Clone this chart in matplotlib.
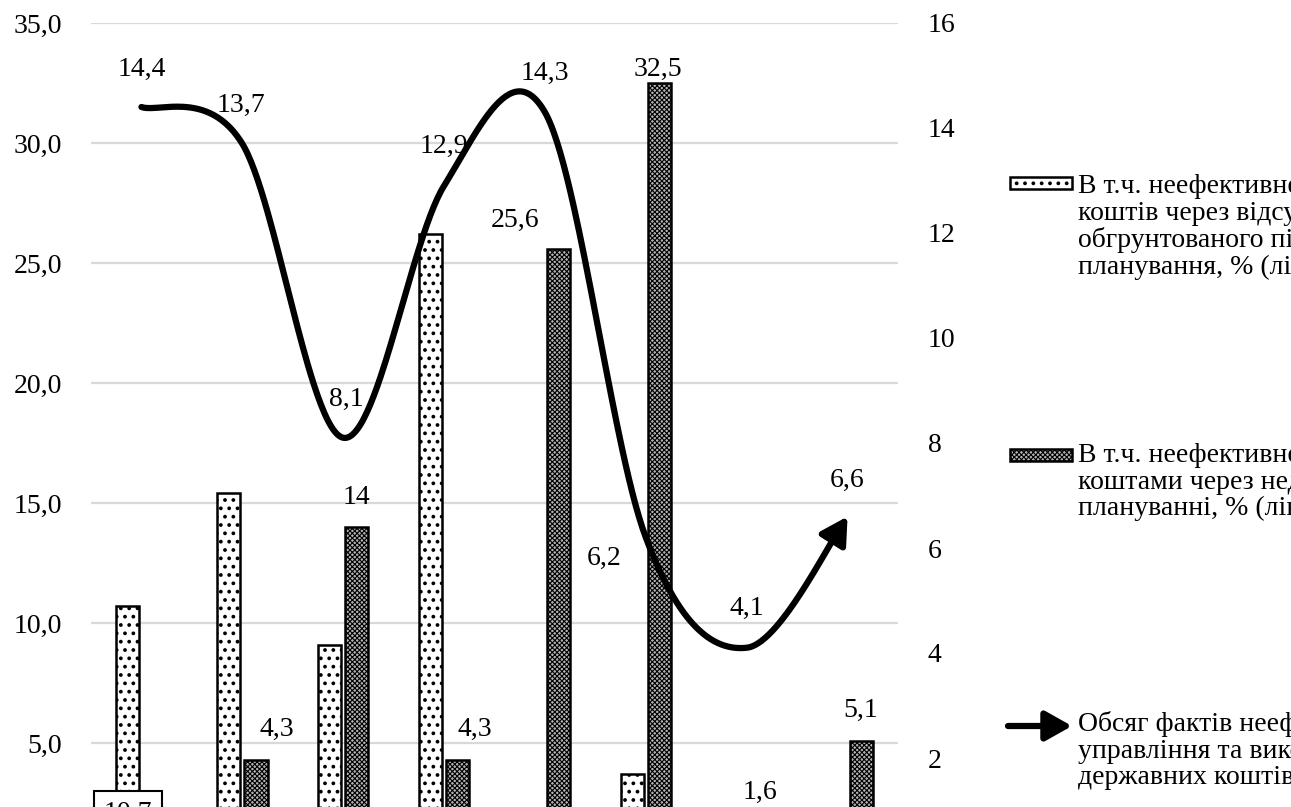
import numpy as np
import matplotlib
matplotlib.use("Agg")
import matplotlib.pyplot as plt
from matplotlib.patches import Rectangle, FancyArrowPatch

plt.rcParams['font.family'] = ['Liberation Serif', 'DejaVu Serif']
plt.rcParams['hatch.linewidth'] = 1.5

# ---------------- data ----------------
periods = [1, 2, 3, 4, 5, 6, 7, 8]
planning_absent = [10.7, 15.4, 9.1, 26.2, np.nan, 3.7, np.nan, np.nan]      # dotted, left axis
planning_flaws = [np.nan, 4.3, 14.0, 4.3, 25.6, 32.5, 1.6, 5.1]            # checker, left axis
facts_volume = [14.4, 13.7, 8.1, 12.9, 14.3, 6.2, 4.1, 6.6]                 # line, right axis

left_ticks = [5, 10, 15, 20, 25, 30, 35]
left_ticklabels = ['5,0', '10,0', '15,0', '20,0', '25,0', '30,0', '35,0']
right_ticks = [2, 4, 6, 8, 10, 12, 14, 16]
right_ticklabels = ['2', '4', '6', '8', '10', '12', '14', '16']

legend_labels = [
    "В т.ч. неефективне використання\nкоштів через відсутність\nобгрунтованого підходу до\nпланування, % (ліва шкала)",
    "В т.ч. неефективне управління\nкоштами через недоліки в\nплануванні, % (ліва шкала)",
    "Обсяг фактів неефективного\nуправління та використання\nдержавних коштів, млрд грн (права шкала)",
]

# ---------------- figure ----------------
W, H = 1291, 807
fig = plt.figure(figsize=(W / 100, H / 100), dpi=100)

def fx(px):
    return px / W

def fy(py):
    return 1 - py / H

ax_left, ax_right_px = 91, 898
ax_top, ax_bot = 23, 863
ax = fig.add_axes([fx(ax_left), fy(ax_bot), fx(ax_right_px - ax_left), (ax_bot - ax_top) / H])
ax2 = ax.twinx()

x = np.arange(len(periods))
bw = 0.23
off = 0.135
checker_face = '#b4b4b4'

ax.bar(x - off, planning_absent, bw, facecolor='white', edgecolor='black',
       linewidth=1.8, hatch='..', zorder=3)
with plt.rc_context({'hatch.linewidth': 0.8}):
    ax.bar(x + off, planning_flaws, bw, facecolor=checker_face, edgecolor='black',
           linewidth=1.8, hatch='xxxxxxx', zorder=3)

ax.set_xlim(-0.5, len(periods) - 0.5)
ax.set_ylim(0, 35)
ax2.set_ylim(0, 16)
ax.set_yticks(left_ticks)
ax.set_yticklabels(left_ticklabels)
ax2.set_yticks(right_ticks)
ax2.set_yticklabels(right_ticklabels)
ax.set_xticks([])
for a in (ax, ax2):
    for s in a.spines.values():
        s.set_visible(False)
    a.tick_params(length=0, labelsize=20)
ax.tick_params(axis='y', pad=21)
ax2.tick_params(axis='y', pad=21.5)
ax.yaxis.grid(True, color='#d9d9d9', linewidth=1.6, zorder=0)
ax.set_axisbelow(True)

# smoothed line (Excel-like Bezier smoothing)
def smooth(xs, ys, n=60):
    P = np.column_stack([xs, ys]).astype(float)
    P = np.vstack([P[0], P, P[-1]])
    out = []
    t = np.linspace(0, 1, n)[:, None]
    for i in range(1, len(P) - 2):
        p0, p1, p2, p3 = P[i - 1], P[i], P[i + 1], P[i + 2]
        c1 = p1 + (p2 - p0) / 6
        c2 = p2 - (p3 - p1) / 6
        seg = (1 - t) ** 3 * p1 + 3 * (1 - t) ** 2 * t * c1 + 3 * (1 - t) * t ** 2 * c2 + t ** 3 * p2
        out.append(seg if i == 1 else seg[1:])
    return np.vstack(out)

curve = smooth(x, facts_volume)
k = 14
ax2.plot(curve[:-k + 1, 0], curve[:-k + 1, 1], color='black', linewidth=4.5,
         solid_capstyle='round', zorder=4)
ax2.annotate('', xy=(curve[-1, 0], curve[-1, 1]), xytext=(curve[-k, 0], curve[-k, 1]),
             arrowprops=dict(arrowstyle='-|>,head_length=0.8,head_width=0.45',
                             color='black', lw=4.5, mutation_scale=20,
                             shrinkA=0, shrinkB=0), zorder=5)

fmt = lambda v: (f"{v:.1f}".replace('.', ',') if v != int(v) else str(int(v)))

# line labels (offsets in pixels)
line_offsets = [(0, 38), (-1, 38), (3, 38), (0, 39), (0, 39), (-42, -21), (0, 39), (0, 36)]
for xi, v, (dx, dy) in zip(x, facts_volume, line_offsets):
    ax2.annotate(fmt(v), (xi, v), xytext=(dx, dy), textcoords='offset pixels',
                 ha='center', va='center', fontsize=20, zorder=6)

# bar labels for checker bars
bar_offsets = [None, (21, 30), (0, 29), (17, 30), (-43, 28), (-2, 14), (0, 32), (0, 30)]
for xi, v, o in zip(x, planning_flaws, bar_offsets):
    if o is None or np.isnan(v):
        continue
    ax.annotate(fmt(v), (xi + off, v), xytext=o, textcoords='offset pixels',
                ha='center', va='center', fontsize=20, zorder=6)

# boxed label for first dotted bar
ax.annotate(fmt(planning_absent[0]), (x[0] - off, 0), xytext=(0, 50), textcoords='offset pixels',
            ha='center', va='center', fontsize=20, zorder=7,
            bbox=dict(boxstyle='square,pad=0.35', facecolor='white', edgecolor='black', linewidth=1.5))

# ---------------- legend (manual, clipped by figure edge) ----------------
fs_leg = 20
ls_leg = 1.08
# entry 1
r1 = Rectangle((fx(1010), fy(189)), fx(62), 12 / H, transform=fig.transFigure,
               facecolor='white', edgecolor='black', linewidth=1.8, hatch='..')
fig.patches.append(r1)
fig.text(fx(1078), fy(174), legend_labels[0], ha='left', va='top', fontsize=fs_leg, linespacing=ls_leg)
# entry 2
with plt.rc_context({'hatch.linewidth': 0.8}):
    r2 = Rectangle((fx(1010), fy(461)), fx(62), 12 / H, transform=fig.transFigure,
                   facecolor=checker_face, edgecolor='black', linewidth=1.8, hatch='xxxxxxx')
fig.patches.append(r2)
fig.text(fx(1078), fy(443), legend_labels[1], ha='left', va='top', fontsize=fs_leg, linespacing=ls_leg)
# entry 3
arr = FancyArrowPatch((fx(1008), fy(726)), (fx(1072), fy(726)), transform=fig.transFigure,
                      arrowstyle='-|>,head_length=0.8,head_width=0.45', mutation_scale=20,
                      color='black', linewidth=4.5, shrinkA=0, shrinkB=0)
fig.patches.append(arr)
fig.text(fx(1078), fy(711), legend_labels[2], ha='left', va='top', fontsize=fs_leg, linespacing=ls_leg)

fig.savefig('out.png', dpi=100)
